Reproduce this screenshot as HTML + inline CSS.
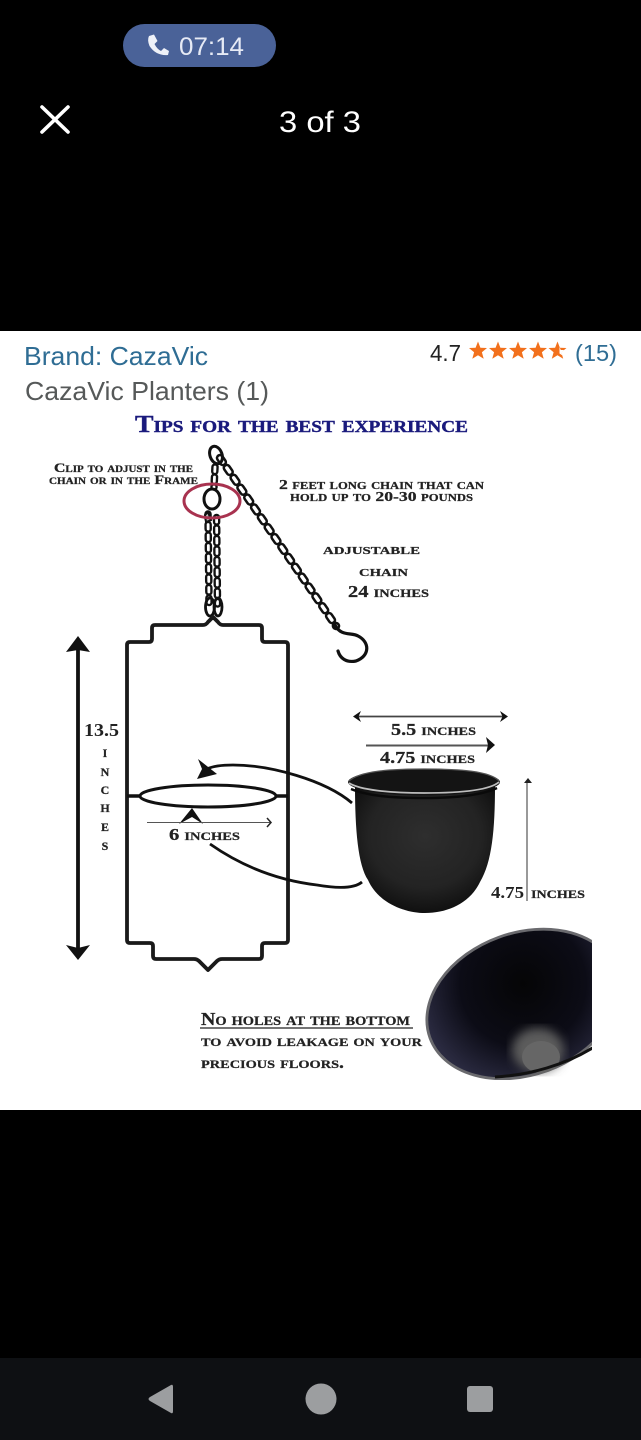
<!DOCTYPE html>
<html><head><meta charset="utf-8">
<style>
html,body{margin:0;padding:0;background:#000;width:641px;height:1440px;overflow:hidden}
svg{display:block}
.s{font-family:"Liberation Serif",serif;font-weight:bold;font-variant:small-caps;fill:#222;stroke:#222;stroke-width:.25}
.a{font-family:"Liberation Sans",sans-serif}
</style></head><body>
<svg width="641" height="1440" viewBox="0 0 641 1440" xmlns="http://www.w3.org/2000/svg">
<defs>
<radialGradient id="body" cx="50%" cy="40%" r="62%"><stop offset="0" stop-color="#2e2e2e"/><stop offset=".65" stop-color="#232323"/><stop offset="1" stop-color="#0e0e0e"/></radialGradient>
<radialGradient id="inner" gradientUnits="userSpaceOnUse" cx="530" cy="985" r="105"><stop offset="0" stop-color="#050506"/><stop offset=".6" stop-color="#0c0c16"/><stop offset="1" stop-color="#2a2a40"/></radialGradient>
<filter id="blur"><feGaussianBlur stdDeviation="5"/></filter>
<clipPath id="cp"><rect x="400" y="920" width="192" height="160"/></clipPath>
<polygon id="st" points="0,-9.500 2.400,-3.200 9,-3 3.900,1.300 5.700,7.800 0,4.200 -5.700,7.800 -3.900,1.300 -9,-3 -2.400,-3.200"/>
</defs>
<rect width="641" height="1440" fill="#000"/>
<!-- status -->
<rect x="123" y="24" width="153" height="43" rx="21.500" fill="#4a6298"/>
<path d="M149 36 L154 34.500 L157.500 41 L154.500 44 Q157 49 161 51 L164 48 L169 51 L168 55 Q156 56 149.500 46 Q147 40 149 36Z" fill="#eef1f8"/>
<text x="179" y="55" class="a" font-size="25" fill="#e6eaf5" textLength="65" lengthAdjust="spacingAndGlyphs">07:14</text>
<path d="M42 107 L68 132 M68 107 L42 132" stroke="#fff" stroke-width="3.600" stroke-linecap="round"/>
<text x="279" y="132" class="a" font-size="30" fill="#fff" textLength="82" lengthAdjust="spacingAndGlyphs">3 of 3</text>
<!-- image -->
<rect x="0" y="331" width="641" height="779" fill="#fff"/>
<text x="24" y="365" class="a" font-size="26" fill="#2f6d94" textLength="184" lengthAdjust="spacingAndGlyphs">Brand: CazaVic</text>
<text x="25" y="400" class="a" font-size="26" fill="#565959" textLength="244" lengthAdjust="spacingAndGlyphs">CazaVic Planters (1)</text>
<text x="430" y="361" class="a" font-size="23" fill="#222" textLength="31" lengthAdjust="spacingAndGlyphs">4.7</text>
<g fill="#f2701c">
<use href="#st" x="478" y="351"/><use href="#st" x="498" y="351"/><use href="#st" x="518" y="351"/><use href="#st" x="538" y="351"/><use href="#st" x="557.500" y="351"/>
</g>
<polygon points="559.500,347 560.800,350 564,350 561.500,352.500 562.500,355.500 559.500,353.500" fill="#fff"/>
<text x="575" y="361" class="a" font-size="23" fill="#2f6d94" textLength="42" lengthAdjust="spacingAndGlyphs">(15)</text>
<text x="135" y="432" class="s" font-size="24.500" style="fill:#1a1a7c;stroke:#1a1a7c;stroke-width:.4" textLength="333" lengthAdjust="spacingAndGlyphs">Tips for the best experience</text>
<text x="54" y="472" class="s" font-size="13" textLength="139" lengthAdjust="spacingAndGlyphs">Clip to adjust in the</text>
<text x="49" y="484" class="s" font-size="13" textLength="149" lengthAdjust="spacingAndGlyphs">chain or in the Frame</text>
<text x="279" y="489" class="s" font-size="14" textLength="205" lengthAdjust="spacingAndGlyphs">2 feet long chain that can</text>
<text x="290" y="501" class="s" font-size="14" textLength="183" lengthAdjust="spacingAndGlyphs">hold up to 20-30 pounds</text>
<text x="323" y="554" class="s" font-size="16" textLength="97" lengthAdjust="spacingAndGlyphs">adjustable</text>
<text x="359" y="576" class="s" font-size="16" textLength="49" lengthAdjust="spacingAndGlyphs">chain</text>
<text x="348" y="597" class="s" font-size="17" textLength="81" lengthAdjust="spacingAndGlyphs">24 inches</text>
<text x="84" y="736" class="s" font-size="18" textLength="35" lengthAdjust="spacingAndGlyphs" style="stroke-width:0">13.5</text>
<text x="105" y="757" class="s" font-size="12" text-anchor="middle">I</text><text x="105" y="776" class="s" font-size="12" text-anchor="middle">N</text><text x="105" y="794" class="s" font-size="12" text-anchor="middle">C</text><text x="105" y="812" class="s" font-size="12" text-anchor="middle">H</text><text x="105" y="831" class="s" font-size="12" text-anchor="middle">E</text><text x="105" y="850" class="s" font-size="12" text-anchor="middle">S</text>
<text x="169" y="840" class="s" font-size="17" textLength="71" lengthAdjust="spacingAndGlyphs">6 inches</text>
<text x="391" y="735" class="s" font-size="17" textLength="85" lengthAdjust="spacingAndGlyphs">5.5 inches</text>
<text x="380" y="763" class="s" font-size="17" textLength="95" lengthAdjust="spacingAndGlyphs">4.75 inches</text>
<text x="491" y="898" class="s" font-size="17" textLength="33" lengthAdjust="spacingAndGlyphs" style="stroke-width:0">4.75</text>
<text x="531" y="898" class="s" font-size="17" textLength="54" lengthAdjust="spacingAndGlyphs">inches</text>
<text x="201" y="1025" class="s" font-size="18" textLength="209" lengthAdjust="spacingAndGlyphs">No holes at the bottom</text>
<text x="201" y="1046" class="s" font-size="16.500" textLength="221" lengthAdjust="spacingAndGlyphs">to avoid leakage on your</text>
<text x="201" y="1068" class="s" font-size="16.500" textLength="143" lengthAdjust="spacingAndGlyphs">precious floors.</text>
<line x1="200" y1="1028" x2="413" y2="1028" stroke="#222" stroke-width="1.200"/>
<!-- chains -->
<g fill="none" stroke-linecap="round">
<path d="M220 458 L336 626" stroke="#111" stroke-width="8.500" stroke-dasharray="5 7"/>
<path d="M220 458 L336 626" stroke="#fff" stroke-width="3.400" stroke-dasharray="5 7"/>
<path d="M215 467 L214 487" stroke="#111" stroke-width="7.500" stroke-dasharray="4.500 5.500"/>
<path d="M215 467 L214 487" stroke="#fff" stroke-width="2.800" stroke-dasharray="4.500 5.500"/>
<path d="M208 514 L209 604" stroke="#111" stroke-width="7.500" stroke-dasharray="4.500 6"/>
<path d="M208 514 L209 604" stroke="#fff" stroke-width="2.800" stroke-dasharray="4.500 6"/>
<path d="M216.500 512 L217.500 604" stroke="#111" stroke-width="7.500" stroke-dasharray="4.500 6" stroke-dashoffset="5"/>
<path d="M216.500 512 L217.500 604" stroke="#fff" stroke-width="2.800" stroke-dasharray="4.500 6" stroke-dashoffset="5"/>
<ellipse cx="216" cy="455" rx="6" ry="9" stroke="#111" stroke-width="3" transform="rotate(-20 216 455)"/>
<ellipse cx="212" cy="499" rx="8" ry="10" stroke="#111" stroke-width="3"/>
<path d="M205 515 L208 512 L211 520 L206 522Z" fill="#bbb" stroke="#111" stroke-width="2"/>
<ellipse cx="210" cy="607" rx="4.500" ry="9" stroke="#111" stroke-width="2.800"/>
<ellipse cx="218" cy="607" rx="4" ry="9" stroke="#111" stroke-width="2.800"/>
<ellipse cx="212" cy="501" rx="28" ry="17" stroke="#a8324f" stroke-width="3"/>
<path d="M335 625 C341 637 352 632 358 636 C370 642 370 656 356 661 C346 663 340 658 338 651" stroke="#111" stroke-width="3.200"/>
</g>
<!-- frame -->
<path d="M127 645 Q127 642 130 642 H149 Q152 642 152 639 V628 Q152 625 155 625 H203 Q206 625 208 622 L213 617 L218 622 Q220 625 223 625 H259 Q262 625 262 628 V639 Q262 642 265 642 H285 Q288 642 288 645 V940 Q288 943 285 943 H265 Q262 943 262 946 V956 Q262 959 259 959 H222 Q219 959 217 961 L208 970 L199 961 Q197 959 194 959 H156 Q153 959 153 956 V946 Q153 943 150 943 H130 Q127 943 127 940 Z" fill="none" stroke="#1a1a1a" stroke-width="3.800" stroke-linejoin="round"/>
<ellipse cx="208" cy="796" rx="68" ry="11" fill="none" stroke="#111" stroke-width="3"/>
<path d="M127 796 H140 M276 796 H288" stroke="#111" stroke-width="3.500"/>
<!-- height arrow -->
<path d="M78 645 V950" stroke="#111" stroke-width="3.800"/>
<path d="M78 636 L90 652 L78 650 L66 652Z M78 960 L90 945 L78 948 L66 945Z" fill="#111"/>
<!-- curves -->
<path d="M352 803 C325 780 270 765 233 765 C222 765 213 766 207 769" fill="none" stroke="#111" stroke-width="2.800"/>
<path d="M198 759 L217 774 L197 779 L202 769Z" fill="#111"/>
<path d="M210 844 C240 865 275 880 317 885 C340 889 355 888 362 882" fill="none" stroke="#111" stroke-width="2.800"/>
<path d="M192 808 L203 824 L192 817 L179 824Z" fill="#111"/>
<path d="M147 822.500 H270" stroke="#555" stroke-width="1.100"/>
<path d="M267 818 L271 822.500 L267 827" fill="none" stroke="#222" stroke-width="1.500"/>
<!-- pot arrows -->
<path d="M355 716.500 H506" stroke="#444" stroke-width="1.800"/>
<path d="M353 716.500 L361 711 L358.500 716.500 L361 722Z M508 716.500 L500 711 L502.500 716.500 L500 722Z" fill="#111"/>
<path d="M366 745.500 H490" stroke="#555" stroke-width="2"/>
<path d="M495 745 L486 737 L488 745 L486 753Z" fill="#111"/>
<path d="M527 782 V901" stroke="#777" stroke-width="1.500"/>
<path d="M528 778 L532 783 L524 783Z" fill="#222"/>
<!-- pot -->
<path d="M355 785 C355 830 358 865 368 880 C378 903 405 913 425 913 C448 913 470 903 480 882 C492 862 495 830 495 785 Z" fill="url(#body)"/>
<ellipse cx="424" cy="782" rx="76" ry="13.500" fill="#141414"/>
<path d="M349 783 C360 790 390 793 424 793 C460 793 490 790 499 782" fill="none" stroke="#bdbdbd" stroke-width="1.800"/>
<path d="M351 789 C370 797 400 798 424 798 C450 798 480 796 497 788" fill="none" stroke="#0a0a0a" stroke-width="2.500"/>
<path d="M349 781 C360 771 390 769 424 769 C460 769 490 771 499 781" fill="none" stroke="#555" stroke-width="1.200"/>
<!-- bottom pot -->
<g clip-path="url(#cp)">
<ellipse cx="523" cy="1004" rx="99" ry="71" transform="rotate(-20 523 1004)" fill="url(#inner)" stroke="#6a6a6e" stroke-width="2.800"/>
<ellipse cx="538" cy="1050" rx="26" ry="22" fill="#5c5c5c" filter="url(#blur)"/>
<ellipse cx="541" cy="1057" rx="19" ry="16" fill="#666"/>
<path d="M495 1077 C530 1075 565 1065 594 1047" fill="none" stroke="#111" stroke-width="3"/>
</g>
<!-- nav -->
<rect x="0" y="1358" width="641" height="82" fill="#0e1013"/>
<path d="M150 1397 L171 1385 Q173 1384 173 1387 V1411 Q173 1414 171 1413 L150 1401 Q147 1399 150 1397Z" fill="#9c9ea0"/>
<circle cx="321" cy="1399" r="15.500" fill="#9c9ea0"/>
<rect x="467" y="1386" width="26" height="26" rx="3" fill="#9c9ea0"/>
</svg>
</body></html>
